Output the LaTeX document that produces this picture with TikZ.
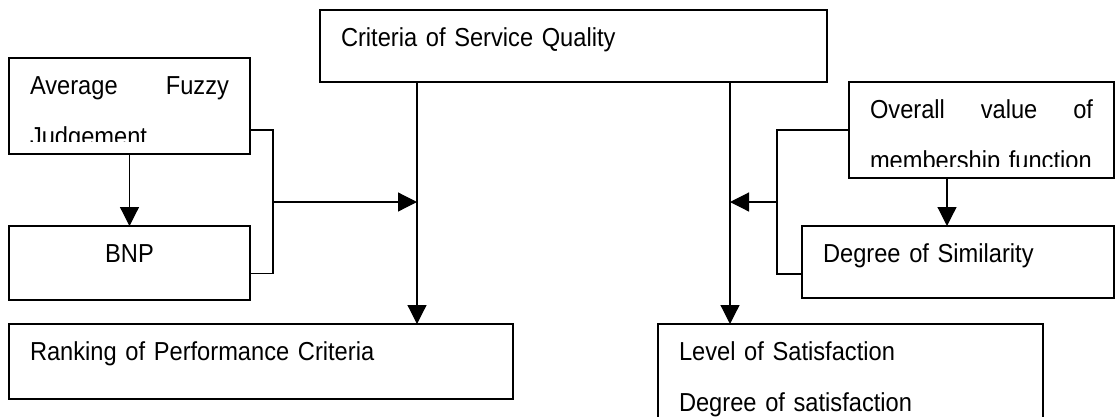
\documentclass[tikz,border=0pt]{standalone}
\usepackage{fontspec}
\setmainfont{Liberation Sans}[FakeStretch=0.91, WordSpace=0.91]
\usetikzlibrary{arrows.meta}

\tikzset{
  box/.style={draw, line width=1.2pt, outer sep=0pt, anchor=north west, inner xsep=21pt, inner ysep=0pt, text height=36.5pt, align=left},
  link/.style={line width=1.2pt},
  arr/.style={line width=1.2pt, -{Triangle[length=19pt,width=19pt]}}
}

\begin{document}
\begin{tikzpicture}[x=1pt, y=-1pt, font=\fontsize{26}{51}\selectfont]
  \clip (0,0) rectangle (1118,416);

  % Boxes
  \node[box, text width=465pt, text depth=35.5pt] (csq) at (320,10) {Criteria of Service Quality};
  \node[box, text width=199pt, text depth=59.5pt] (afj) at (9,58) {Average\hfill Fuzzy\\Judgement};
  \node[box, text width=199pt, text depth=37.5pt, align=center] (bnp) at (9,226) {BNP};
  \node[box, text width=462pt, text depth=38.5pt] (rpc) at (9,324) {Ranking of Performance Criteria};
  \node[box, text width=223pt, text depth=59.5pt] (ovm) at (849,82) {Overall\hfill value\hfill of\\membership function};
  \node[box, text width=270pt, text depth=35.5pt] (dos) at (802,226) {Degree of Similarity};
  \node[box, text width=343pt, text depth=103.5pt] (los) at (658,324) {Level of Satisfaction\\Degree of satisfaction};

  % Cut-off second lines
  \fill[white] ([shift={(1.2pt,1.2pt)}]afj.south west) rectangle ([shift={(-1.2pt,12pt)}]afj.south east);
  \fill[white] ([shift={(1.2pt,1.2pt)}]ovm.south west) rectangle ([shift={(-1.2pt,11pt)}]ovm.south east);

  % Trunks and joints
  \coordinate (lt) at (417,82);
  \coordinate (rt) at (730,82);
  \coordinate (lj) at (273,202);
  \coordinate (rj) at (777,202);
  \coordinate (ovmout) at (947,178);

  \draw[arr] (lt) -- (lt |- rpc.north);
  \draw[arr] (rt) -- (rt |- los.north);
  \draw[arr] (afj.south) -- (bnp.north);
  \draw[arr] (ovmout) -- (ovmout |- dos.north);

  % Brackets
  \draw[link] ([yshift=-24pt]afj.east) -| (lj) |- ([yshift=-10.5pt]bnp.east);
  \draw[arr] (lj) -- (lj -| lt);
  \draw[link] (ovm.west) -| (rj) |- ([yshift=-12pt]dos.west);
  \draw[arr] (rj) -- (rj -| rt);
\end{tikzpicture}
\end{document}
